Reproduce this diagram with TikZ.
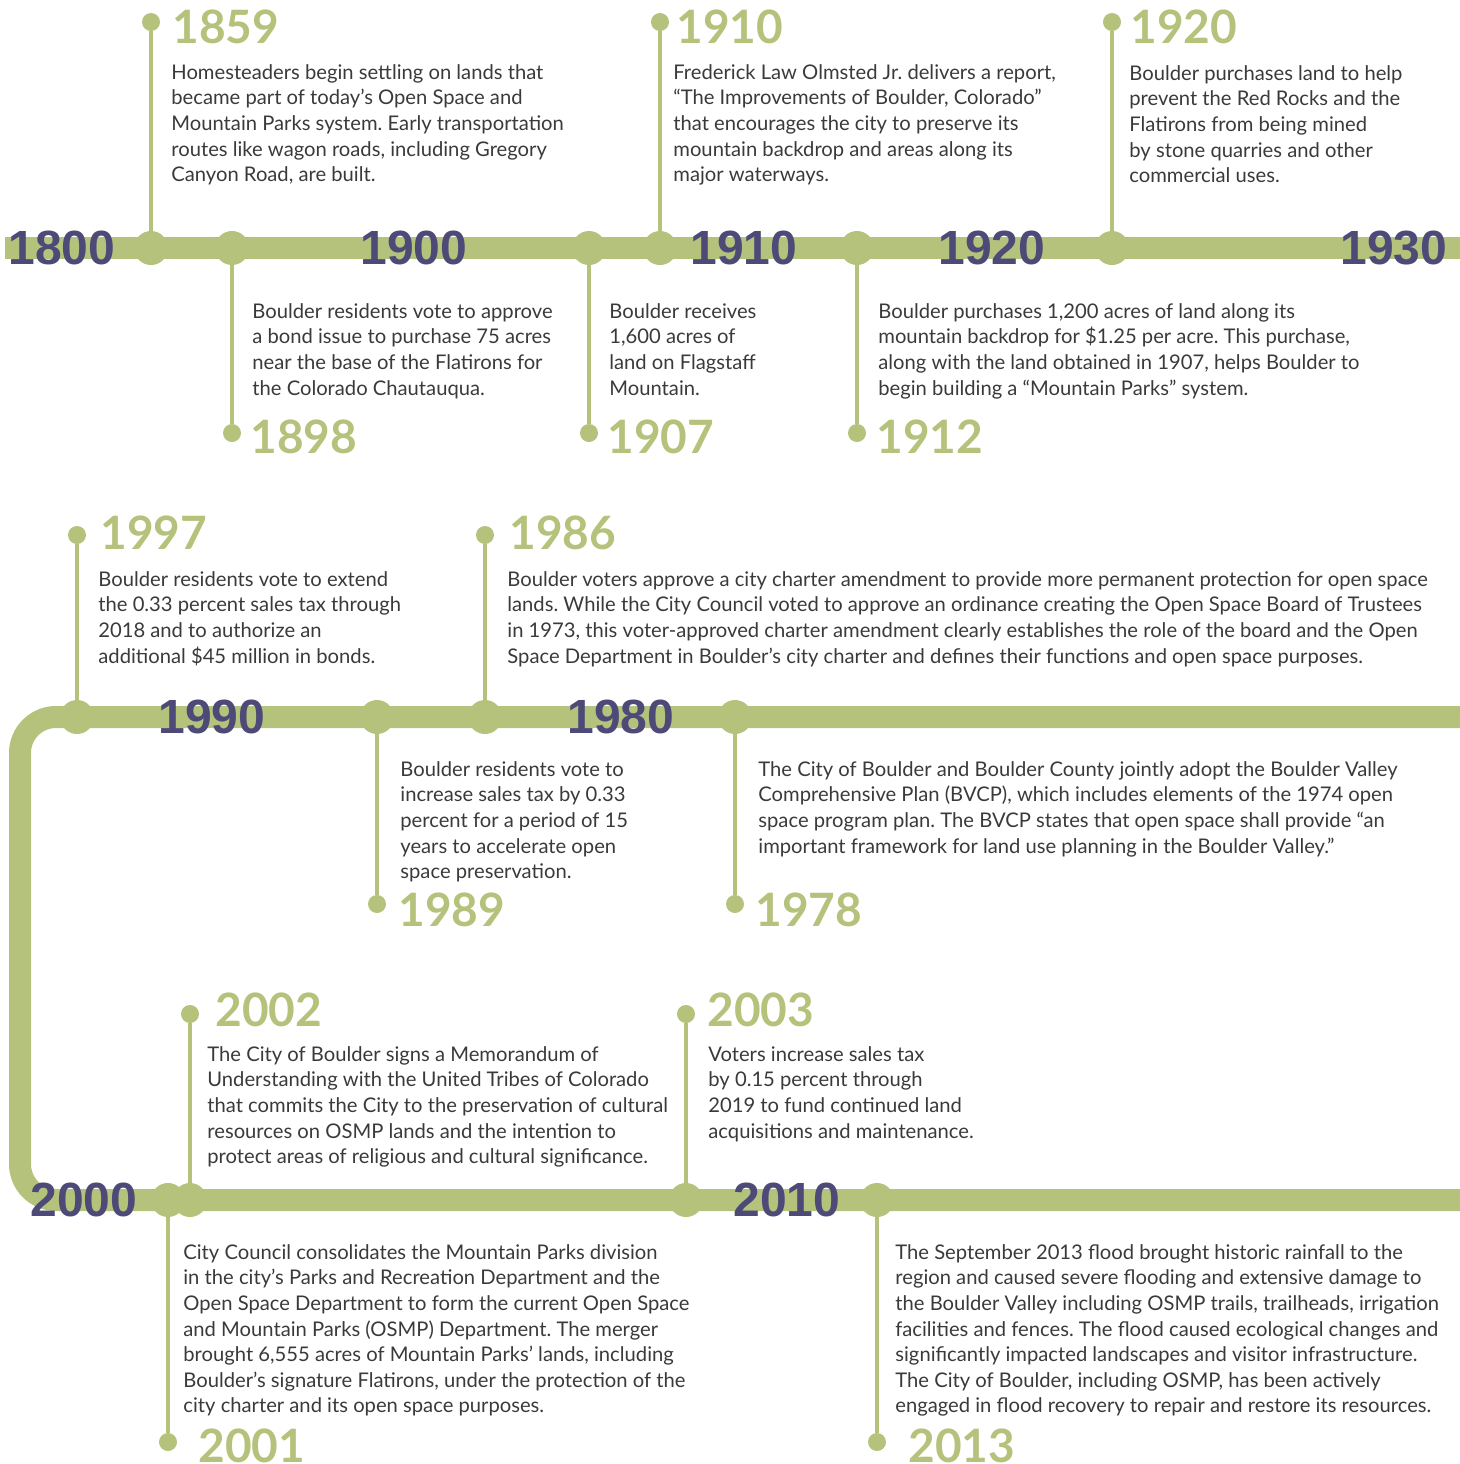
\documentclass[tikz,border=0pt]{standalone}
\usepackage{fontspec}
\setmainfont{Lato}
\setsansfont{Liberation Sans}
\definecolor{sage}{HTML}{B5C27B}
\definecolor{plum}{HTML}{4E4A78}
\definecolor{ink}{HTML}{3A3A3A}
\frenchspacing
\begin{document}
\begin{tikzpicture}[x=0.5pt,y=-0.5pt,
    bar/.style={sage,line width=11pt},
    stem/.style={sage,line width=2.2pt},
    hub/.style={circle,fill=sage,minimum size=17pt,inner sep=0pt},
    tip/.style={circle,fill=sage,minimum size=9pt,inner sep=0pt},
    decade/.style={anchor=west,inner sep=0pt,text=plum,font=\sffamily\bfseries\fontsize{24}{24}\selectfont},
    year/.style={anchor=west,inner sep=0pt,text=sage,font=\bfseries\fontsize{23}{23}\selectfont},
    note/.style={anchor=north west,inner sep=0pt,align=left,text=ink,font=\fontsize{10.1}{12.8}\selectfont}]
      \useasboundingbox (0,0) rectangle (1460,1464);
      % the three lines
      \draw [bar] (5,248) -- (1460,248);
      \draw [bar,rounded corners=18pt] (1460,717) -- (20,717) -- (20,1200) -- (1460,1200);
      % first line
      \node [hub] (h1859) at (151,248) {};
      \node [tip] (e1859) at (151,22) {};
      \draw [stem] (h1859) -- (e1859);
      \node [year] (y1859) at (172,27) {1859};
      \node [note] (n1859) at (171,64) {Homesteaders begin settling on lands that\\became part of today’s Open Space and\\Mountain Parks system. Early transportation\\routes like wagon roads, including Gregory\\Canyon Road, are built.};
      \node [hub] (h1898) at (232,248) {};
      \node [tip] (e1898) at (232,433) {};
      \draw [stem] (h1898) -- (e1898);
      \node [year] (y1898) at (250,437) {1898};
      \node [note] (n1898) at (252,303) {Boulder residents vote to approve\\a bond issue to purchase 75 acres\\near the base of the Flatirons for\\the Colorado Chautauqua.};
      \node [hub] (h1907) at (589,248) {};
      \node [tip] (e1907) at (589,433) {};
      \draw [stem] (h1907) -- (e1907);
      \node [year] (y1907) at (607,437) {1907};
      \node [note] (n1907) at (609,303) {Boulder receives\\1,600 acres of\\land on Flagstaff\\Mountain.};
      \node [hub] (h1910) at (660,248) {};
      \node [tip] (e1910) at (660,22) {};
      \draw [stem] (h1910) -- (e1910);
      \node [year] (y1910) at (676,27) {1910};
      \node [note] (n1910) at (673,64) {Frederick Law Olmsted Jr. delivers a report,\\“The Improvements of Boulder, Colorado”\\that encourages the city to preserve its\\mountain backdrop and areas along its\\major waterways.};
      \node [hub] (h1912) at (857,248) {};
      \node [tip] (e1912) at (857,433) {};
      \draw [stem] (h1912) -- (e1912);
      \node [year] (y1912) at (876,437) {1912};
      \node [note] (n1912) at (878,303) {Boulder purchases 1,200 acres of land along its\\mountain backdrop for \$1.25 per acre. This purchase,\\along with the land obtained in 1907, helps Boulder to\\begin building a “Mountain Parks” system.};
      \node [hub] (h1920) at (1112,248) {};
      \node [tip] (e1920) at (1112,22) {};
      \draw [stem] (h1920) -- (e1920);
      \node [year] (y1920) at (1130,27) {1920};
      \node [note] (n1920) at (1129,65) {Boulder purchases land to help\\prevent the Red Rocks and the\\Flatirons from being mined\\by stone quarries and other\\commercial uses.};
      \node [decade] (d1800) at (8,248) {1800};
      \node [decade] (d1900) at (360,248) {1900};
      \node [decade] (d1910) at (690,248) {1910};
      \node [decade] (d1920) at (938,248) {1920};
      \node [decade] (d1930) at (1340,248) {1930};
      % second line
      \node [hub] (h1997) at (77,717) {};
      \node [tip] (e1997) at (77,535) {};
      \draw [stem] (h1997) -- (e1997);
      \node [year] (y1997) at (100,533) {1997};
      \node [note] (n1997) at (98,571) {Boulder residents vote to extend\\the 0.33 percent sales tax through\\2018 and to authorize an\\additional \$45 million in bonds.};
      \node [hub] (h1989) at (377,717) {};
      \node [tip] (e1989) at (377,904) {};
      \draw [stem] (h1989) -- (e1989);
      \node [year] (y1989) at (398,910) {1989};
      \node [note] (n1989) at (400,761) {Boulder residents vote to\\increase sales tax by 0.33\\percent for a period of 15\\years to accelerate open\\space preservation.};
      \node [hub] (h1986) at (485,717) {};
      \node [tip] (e1986) at (485,535) {};
      \draw [stem] (h1986) -- (e1986);
      \node [year] (y1986) at (509,533) {1986};
      \node [note] (n1986) at (507,571) {Boulder voters approve a city charter amendment to provide more permanent protection for open space\\lands. While the City Council voted to approve an ordinance creating the Open Space Board of Trustees\\in 1973, this voter-approved charter amendment clearly establishes the role of the board and the Open\\Space Department in Boulder’s city charter and defines their functions and open space purposes.};
      \node [hub] (h1978) at (735,717) {};
      \node [tip] (e1978) at (735,904) {};
      \draw [stem] (h1978) -- (e1978);
      \node [year] (y1978) at (755,910) {1978};
      \node [note] (n1978) at (758,761) {The City of Boulder and Boulder County jointly adopt the Boulder Valley\\Comprehensive Plan (BVCP), which includes elements of the 1974 open\\space program plan. The BVCP states that open space shall provide “an\\important framework for land use planning in the Boulder Valley.”};
      \node [decade] (d1990) at (158,717) {1990};
      \node [decade] (d1980) at (567,717) {1980};
      % third line
      \node [hub] (h2001) at (168,1200) {};
      \node [tip] (e2001) at (168,1442) {};
      \draw [stem] (h2001) -- (e2001);
      \node [year] (y2001) at (198,1446) {2001};
      \node [note] (n2001) at (183,1244) {City Council consolidates the Mountain Parks division\\in the city’s Parks and Recreation Department and the\\Open Space Department to form the current Open Space\\and Mountain Parks (OSMP) Department. The merger\\brought 6,555 acres of Mountain Parks’ lands, including\\Boulder’s signature Flatirons, under the protection of the\\city charter and its open space purposes.};
      \node [hub] (h2002) at (190,1200) {};
      \node [tip] (e2002) at (190,1014) {};
      \draw [stem] (h2002) -- (e2002);
      \node [year] (y2002) at (215,1010) {2002};
      \node [note] (n2002) at (207,1046) {The City of Boulder signs a Memorandum of\\Understanding with the United Tribes of Colorado\\that commits the City to the preservation of cultural\\resources on OSMP lands and the intention to\\protect areas of religious and cultural significance.};
      \node [hub] (h2003) at (686,1200) {};
      \node [tip] (e2003) at (686,1014) {};
      \draw [stem] (h2003) -- (e2003);
      \node [year] (y2003) at (707,1010) {2003};
      \node [note] (n2003) at (708,1046) {Voters increase sales tax\\by 0.15 percent through\\2019 to fund continued land\\acquisitions and maintenance.};
      \node [hub] (h2013) at (877,1200) {};
      \node [tip] (e2013) at (877,1442) {};
      \draw [stem] (h2013) -- (e2013);
      \node [year] (y2013) at (908,1446) {2013};
      \node [note] (n2013) at (895,1244) {The September 2013 flood brought historic rainfall to the\\region and caused severe flooding and extensive damage to\\the Boulder Valley including OSMP trails, trailheads, irrigation\\facilities and fences. The flood caused ecological changes and\\significantly impacted landscapes and visitor infrastructure.\\The City of Boulder, including OSMP, has been actively\\engaged in flood recovery to repair and restore its resources.};
      \node [decade] (d2000) at (30,1200) {2000};
      \node [decade] (d2010) at (733,1200) {2010};
    \end{tikzpicture}
\end{document}
